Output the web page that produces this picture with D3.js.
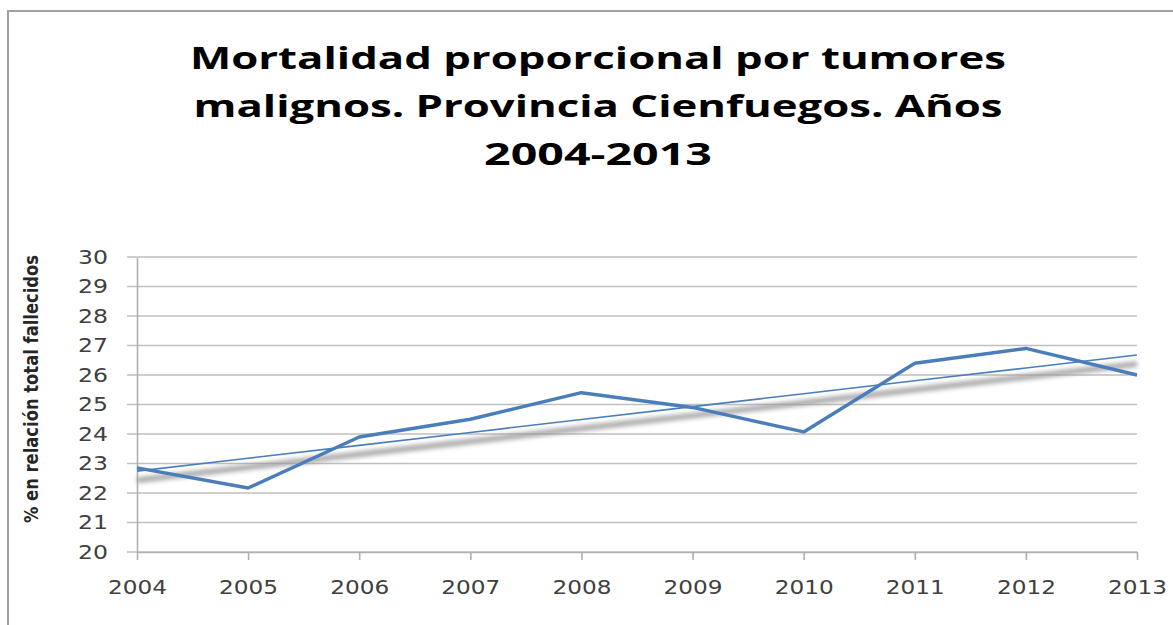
<!DOCTYPE html>
<html lang="es">
<head>
<meta charset="UTF-8">
<title>Mortalidad proporcional por tumores malignos</title>
<script src="https://cdn.jsdelivr.net/npm/d3@7"></script>
<style>
  body { margin: 0; background: #fff; }
  svg { display: block; }
</style>
</head>
<body>
<script>
// datos
const years = ["2004", "2005", "2006", "2007", "2008", "2009", "2010", "2011", "2012", "2013"];
const values = [22.85, 22.17, 23.9, 24.5, 25.4, 24.9, 24.07, 26.4, 26.9, 26.0];
const yTicks = [20, 21, 22, 23, 24, 25, 26, 27, 28, 29, 30];
const titleLines = ["Mortalidad proporcional por tumores", "malignos. Provincia Cienfuegos. Años", "2004-2013"];
const yLabel = "% en relación total fallecidos";

const W = 1173, H = 625;
const svg = d3.select("body").append("svg")
  .attr("width", W)
  .attr("height", H);

// marco del gráfico
svg.append("rect")
  .attr("x", 8).attr("y", 11)
  .attr("width", W + 20).attr("height", H + 20)
  .attr("fill", "none")
  .attr("stroke", "#a0a0a0")
  .attr("stroke-width", 2);

// título
const titleWidths = [816, 809, 228];
svg.append("g").selectAll("text")
  .data(titleLines)
  .join("text")
  .attr("x", 598)
  .attr("y", (d, i) => 69 + i * 48)
  .attr("text-anchor", "middle")
  .attr("font-family", "'Open Sans', sans-serif")
  .attr("font-weight", "bold")
  .attr("font-size", 31)
  .attr("fill", "#000")
  .attr("textLength", (d, i) => titleWidths[i])
  .attr("lengthAdjust", "spacingAndGlyphs")
  .text(d => d);

// escalas
const x = d3.scalePoint().domain(years).range([137, 1137]);
const y = d3.scaleLinear().domain([20, 30]).range([552, 257]);

// líneas de división
svg.append("g")
  .selectAll("line")
  .data(yTicks)
  .join("line")
  .attr("x1", 127).attr("x2", 1137)
  .attr("y1", d => y(d)).attr("y2", d => y(d))
  .attr("stroke", "#bfbfbf")
  .attr("stroke-width", 1.6);

// eje Y
const yAxis = svg.append("g")
  .attr("transform", "translate(137,0)")
  .call(d3.axisLeft(y).tickValues(yTicks).tickSize(0).tickPadding(29));
yAxis.select(".domain").attr("stroke", "#b0b0b0").attr("stroke-width", 1.6);
yAxis.selectAll("text")
  .attr("font-family", "'DejaVu Sans', sans-serif")
  .attr("font-size", 19)
  .attr("fill", "#404040")
  .attr("textLength", 30)
  .attr("lengthAdjust", "spacingAndGlyphs");

// eje X
const xAxis = svg.append("g")
  .attr("transform", "translate(0,552)")
  .call(d3.axisBottom(x).tickSize(8).tickPadding(20).tickSizeOuter(0));
xAxis.select(".domain").attr("stroke", "#b0b0b0").attr("stroke-width", 1.6);
xAxis.selectAll(".tick line").attr("stroke", "#b0b0b0").attr("stroke-width", 1.6);
xAxis.selectAll("text")
  .attr("font-family", "'DejaVu Sans', sans-serif")
  .attr("font-size", 20)
  .attr("fill", "#404040")
  .attr("textLength", 59)
  .attr("lengthAdjust", "spacingAndGlyphs");

// título del eje Y
svg.append("text")
  .attr("transform", "translate(38,389) rotate(-90)")
  .attr("text-anchor", "middle")
  .attr("font-family", "'Liberation Sans Narrow', 'DejaVu Sans Condensed', sans-serif")
  .attr("font-weight", "bold")
  .attr("font-size", 20)
  .attr("fill", "#262626")
  .attr("textLength", 268)
  .attr("lengthAdjust", "spacingAndGlyphs")
  .text(yLabel);

// línea de tendencia (regresión lineal)
const xs = values.map((d, i) => i);
const mx = d3.mean(xs), my = d3.mean(values);
const slope = d3.sum(xs, (d, i) => (d - mx) * (values[i] - my)) / d3.sum(xs, d => (d - mx) ** 2);
const icpt = my - slope * mx;
const trend = years.map((yr, i) => ({ yr, v: icpt + slope * i }));

const defs = svg.append("defs");
defs.append("filter").attr("id", "blur")
  .attr("x", "-5%").attr("y", "-50%").attr("width", "110%").attr("height", "200%")
  .append("feGaussianBlur").attr("stdDeviation", 2.2);

const trendLine = d3.line().x(d => x(d.yr)).y(d => y(d.v));

// sombra de la tendencia
svg.append("path")
  .datum(trend)
  .attr("d", trendLine)
  .attr("transform", "translate(0,9)")
  .attr("fill", "none")
  .attr("stroke", "#9a9a9a")
  .attr("stroke-width", 6)
  .attr("filter", "url(#blur)")
  .attr("opacity", 0.8);

svg.append("path")
  .datum(trend)
  .attr("d", trendLine)
  .attr("fill", "none")
  .attr("stroke", "#4a7ebb")
  .attr("stroke-width", 1.6);

// serie principal
const line = d3.line().x((d, i) => x(years[i])).y(d => y(d));
svg.append("path")
  .datum(values)
  .attr("d", line)
  .attr("fill", "none")
  .attr("stroke", "#4a7ebb")
  .attr("stroke-width", 3.4)
  .attr("stroke-linejoin", "round");
</script>
</body>
</html>
